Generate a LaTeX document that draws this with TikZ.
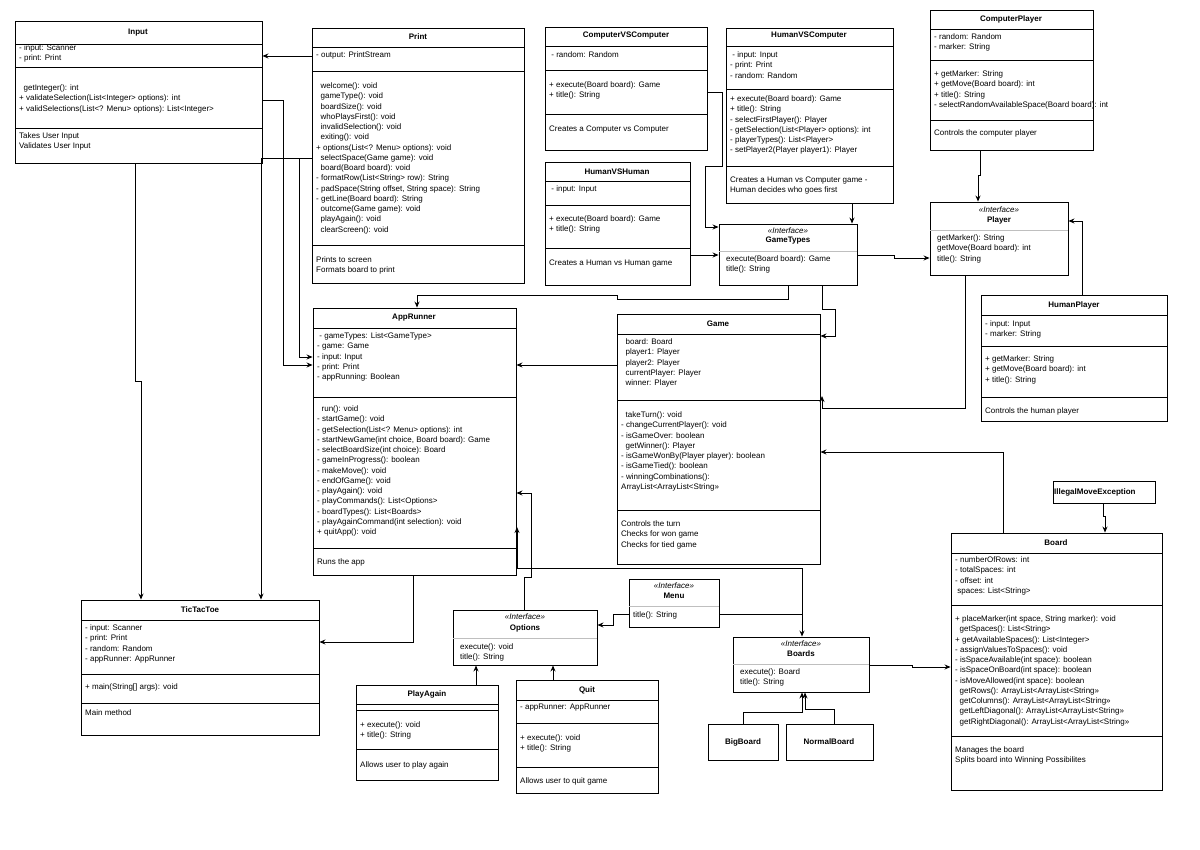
\documentclass[tikz,border=0pt]{standalone}
\usepackage{fontspec}
\setmainfont{Liberation Sans}
\usetikzlibrary{fit,arrows.meta}
\tikzset{
 box/.style={draw,line width=0.9pt,inner sep=0pt},
 ttl/.style={font=\fontsize{8}{10}\selectfont\bfseries,inner sep=0pt},
 ster/.style={font=\fontsize{8}{10}\selectfont\itshape,inner sep=0pt},
 txt/.style={font=\fontsize{8}{10.25}\selectfont,align=left,anchor=north west,inner sep=0pt},
 dv/.style={line width=0.9pt},
 gdv/.style={line width=0.9pt,gray!50},
 con/.style={line width=0.9pt,-{Stealth[length=6pt,width=5pt]}},
}
\newcommand\umlcls[5]{\node[box,fit={(#2,#3)(#4,#5)}] (#1) {};}
\newcommand\tx[3]{\node[txt] at (#1,#2-4.3) {#3};}
\begin{document}
\begin{tikzpicture}[x=1pt,y=-1pt]
\useasboundingbox (0,0) rectangle (1200,850);
% Input
\umlcls{Input}{15}{21}{262}{163}
\node[ttl] at (138,33) {Input};
\draw[dv] (15,44)--(262,44) (15,67)--(262,67) (15,128)--(262,128);
\tx{19}{49}{- input: Scanner\\- print: Print}
\tx{19}{89}{\ \ getInteger(): int\\+ validateSelection(List<Integer> options): int\\+ validSelections(List<? Menu> options): List<Integer>}
\tx{19}{137}{Takes User Input\\Validates User Input}
% Print
\umlcls{Print}{312}{28}{524}{283}
\node[ttl] at (418,37) {Print};
\draw[dv] (312,47)--(524,47) (312,71)--(524,71) (312,245)--(524,245);
\tx{316}{56}{- output: PrintStream}
\tx{316}{87}{\ \ welcome(): void\\\ \ gameType(): void\\\ \ boardSize(): void\\\ \ whoPlaysFirst(): void\\\ \ invalidSelection(): void\\\ \ exiting(): void\\+ options(List<? Menu> options): void\\\ \ selectSpace(Game game): void\\\ \ board(Board board): void\\- formatRow(List<String> row): String\\- padSpace(String offset, String space): String\\- getLine(Board board): String\\\ \ outcome(Game game): void\\\ \ playAgain(): void\\\ \ clearScreen(): void}
\tx{316}{261}{Prints to screen\\Formats board to print}
% ComputerVSComputer
\umlcls{CvC}{545}{27}{707}{150}
\node[ttl] at (626,36) {ComputerVSComputer};
\draw[dv] (545,46)--(707,46) (545,70)--(707,70) (545,114)--(707,114);
\tx{549}{56}{\ - random: Random}
\tx{549}{86}{+ execute(Board board): Game\\+ title(): String}
\tx{549}{130}{Creates a Computer vs Computer}
% HumanVSComputer
\umlcls{HvC}{726}{28}{893}{203}
\node[ttl] at (809,36) {HumanVSComputer};
\draw[dv] (726,46)--(893,46) (726,89)--(893,89) (726,166)--(893,166);
\tx{730}{56}{\ - input: Input\\- print: Print\\- random: Random}
\tx{730}{100}{+ execute(Board board): Game\\+ title(): String\\- selectFirstPlayer(): Player\\- getSelection(List<Player> options): int\\- playerTypes(): List<Player>\\- setPlayer2(Player player1): Player}
\tx{730}{181}{Creates a Human vs Computer game -\\Human decides who goes first}
% HumanVSHuman
\umlcls{HvH}{545}{162}{690}{285}
\node[ttl] at (617,172) {HumanVSHuman};
\draw[dv] (545,181)--(690,181) (545,205)--(690,205) (545,248)--(690,248);
\tx{549}{190}{\ - input: Input}
\tx{549}{220}{+ execute(Board board): Game\\+ title(): String}
\tx{549}{264}{Creates a Human vs Human game}
% GameTypes
\umlcls{GameTypes}{719}{224}{857}{285}
\node[ster] at (788,231) {<<Interface>>};
\node[ttl] at (788,241) {GameTypes};
\draw[gdv] (719,251)--(857,251);
\tx{726}{260}{execute(Board board): Game\\title(): String}
% ComputerPlayer
\umlcls{CompPlayer}{930}{10}{1093}{150}
\node[ttl] at (1011,19) {ComputerPlayer};
\draw[dv] (930,29)--(1093,29) (930,60)--(1093,60) (930,120)--(1093,120);
\tx{934}{38}{- random: Random\\- marker: String}
\tx{934}{75}{+ getMarker: String\\+ getMove(Board board): int\\+ title(): String\\- selectRandomAvailableSpace(Board board): int}
\tx{934}{134}{Controls the computer player}
% Player
\umlcls{Player}{930}{202}{1068}{275}
\node[ster] at (999,210) {<<Interface>>};
\node[ttl] at (999,220) {Player};
\draw[gdv] (930,230)--(1068,230);
\tx{937}{239}{getMarker(): String\\getMove(Board board): int\\title(): String}
% HumanPlayer
\umlcls{HumanPlayer}{981}{295}{1167}{421}
\node[ttl] at (1074,305) {HumanPlayer};
\draw[dv] (981,315)--(1167,315) (981,346)--(1167,346) (981,397)--(1167,397);
\tx{985}{325}{- input: Input\\- marker: String}
\tx{985}{360}{+ getMarker: String\\+ getMove(Board board): int\\+ title(): String}
\tx{985}{412}{Controls the human player}
% AppRunner
\umlcls{AppRunner}{313}{308}{516}{575}
\node[ttl] at (414,318) {AppRunner};
\draw[dv] (313,328)--(516,328) (313,397)--(516,397) (313,548)--(516,548);
\tx{317}{337}{\ - gameTypes: List<GameType>\\- game: Game\\- input: Input\\- print: Print\\- appRunning: Boolean}
\tx{317}{410}{\ \ run(): void\\- startGame(): void\\- getSelection(List<? Menu> options): int\\- startNewGame(int choice, Board board): Game\\- selectBoardSize(int choice): Board\\- gameInProgress(): boolean\\- makeMove(): void\\- endOfGame(): void\\- playAgain(): void\\- playCommands(): List<Options>\\- boardTypes(): List<Boards>\\- playAgainCommand(int selection): void\\+ quitApp(): void}
\tx{317}{563}{Runs the app}
% Game
\umlcls{Game}{617}{314}{820}{564}
\node[ttl] at (718,324) {Game};
\draw[dv] (617,334)--(820,334) (617,400)--(820,400) (617,510)--(820,510);
\tx{621}{343}{\ \ board: Board\\\ \ player1: Player\\\ \ player2: Player\\\ \ currentPlayer: Player\\\ \ winner: Player}
\tx{621}{416}{\ \ takeTurn(): void\\- changeCurrentPlayer(): void\\- isGameOver: boolean\\\ \ getWinner(): Player\\- isGameWonBy(Player player): boolean\\- isGameTied(): boolean\\- winningCombinations():\\ArrayList<ArrayList<String>>}
\tx{621}{525}{Controls the turn\\Checks for won game\\Checks for tied game}
% TicTacToe
\umlcls{TicTacToe}{81}{600}{319}{735}
\node[ttl] at (200,610) {TicTacToe};
\draw[dv] (81,620)--(319,620) (81,674)--(319,674) (81,703)--(319,703);
\tx{85}{629}{- input: Scanner\\- print: Print\\- random: Random\\- appRunner: AppRunner}
\tx{85}{688}{+ main(String[] args): void}
\tx{85}{714}{Main method}
% Options
\umlcls{Options}{453}{610}{597}{665}
\node[ster] at (525,617) {<<Interface>>};
\node[ttl] at (525,628) {Options};
\draw[gdv] (453,638)--(597,638);
\tx{460}{648}{execute(): void\\title(): String}
% Menu
\umlcls{Menu}{629}{579}{719}{627}
\node[ster] at (674,586) {<<Interface>>};
\node[ttl] at (674,596) {Menu};
\draw[gdv] (629,606)--(719,606);
\tx{633}{616}{title(): String}
% PlayAgain
\umlcls{PlayAgain}{356}{685}{498}{780}
\node[ttl] at (427,694) {PlayAgain};
\draw[dv] (356,704)--(498,704) (356,710)--(498,710) (356,749)--(498,749);
\tx{360}{726}{+ execute(): void\\+ title(): String}
\tx{360}{766}{Allows user to play again}
% Quit
\umlcls{Quit}{516}{680}{658}{793}
\node[ttl] at (587,690) {Quit};
\draw[dv] (516,700)--(658,700) (516,723)--(658,723) (516,767)--(658,767);
\tx{520}{708}{- appRunner: AppRunner}
\tx{520}{739}{+ execute(): void\\+ title(): String}
\tx{520}{782}{Allows user to quit game}
% Boards
\umlcls{Boards}{733}{637}{869}{692}
\node[ster] at (801,644) {<<Interface>>};
\node[ttl] at (801,654) {Boards};
\draw[gdv] (733,664)--(869,664);
\tx{740}{673}{execute(): Board\\title(): String}
% BigBoard, NormalBoard
\umlcls{BigBoard}{708}{724}{778}{760}
\node[ttl] at (743,742) {BigBoard};
\umlcls{NormalBoard}{786}{724}{873}{760}
\node[ttl] at (829,742) {NormalBoard};
% IllegalMoveException
\umlcls{Illegal}{1053}{481}{1155}{503}
\node[ttl,anchor=west] at (1054,492) {IllegalMoveException};
% Board
\umlcls{Board}{951}{533}{1162}{790}
\node[ttl] at (1056,543) {Board};
\draw[dv] (951,553)--(1162,553) (951,605)--(1162,605) (951,736)--(1162,736);
\tx{955}{561}{- numberOfRows: int\\- totalSpaces: int\\- offset: int\\\ spaces: List<String>}
\tx{955}{620}{+ placeMarker(int space, String marker): void\\\ \ getSpaces(): List<String>\\+ getAvailableSpaces(): List<Integer>\\- assignValuesToSpaces(): void\\- isSpaceAvailable(int space): boolean\\- isSpaceOnBoard(int space): boolean\\- isMoveAllowed(int space): boolean\\\ \ getRows(): ArrayList<ArrayList<String>>\\\ \ getColumns(): ArrayList<ArrayList<String>>\\\ \ getLeftDiagonal(): ArrayList<ArrayList<String>>\\\ \ getRightDiagonal(): ArrayList<ArrayList<String>>}
\tx{955}{751}{Manages the board\\Splits board into Winning Possibilites}
% connectors
\draw[con] (Print.west |- 0,56) -- (Input.east |- 0,56);
\draw[con] (Input.east |- 0,100) -- (283,100) -- (283,365) -- (AppRunner.west |- 0,365);
\draw[con] (Print.west |- 0,158) -- (299,158) -- (299,357) -- (AppRunner.west |- 0,357);
\draw[con] (Print.west |- 0,158) -- (261,158) -- (TicTacToe.north -| 261,0);
\draw[con] (Input.south -| 135,0) -- (135,381) -- (141,381) -- (TicTacToe.north -| 141,0);
\draw[con] (AppRunner.south -| 413,0) -- (413,642) -- (TicTacToe.east |- 0,642);
\draw[con] (CvC.east |- 0,92) -- (722,92) -- (722,166) -- (705,166) -- (705,227) -- (GameTypes.west |- 0,227);
\draw[con] (HvH.east |- 0,255) -- (GameTypes.west |- 0,255);
\draw[con] (HvC.south -| 852,0) -- (GameTypes.north -| 852,0);
\draw[con] (GameTypes.east |- 0,255) -- (894,255) -- (894,258) -- (Player.west |- 0,258);
\draw[con] (CompPlayer.south -| 980,0) -- (980,175) -- (978,175) -- (Player.north -| 978,0);
\draw[con] (HumanPlayer.north -| 1082,0) -- (1082,221) -- (Player.east |- 0,221);
\draw[con] (Player.south -| 965,0) -- (965,408) -- (822,408) -- (822,396);
\draw[con] (GameTypes.south -| 788,0) -- (788,299) -- (617,299) -- (617,295) -- (417,295) -- (AppRunner.north -| 417,0);
\draw[con] (GameTypes.south -| 822,0) -- (822,309) -- (835,309) -- (835,336) -- (Game.east |- 0,336);
\draw[con] (Game.west |- 0,365) -- (AppRunner.east |- 0,365);
\draw[con] (Board.north -| 1003,0) -- (1003,452) -- (Game.east |- 0,452);
\draw[con] (Illegal.south -| 1103,0) -- (1103,516) -- (1105,516) -- (Board.north -| 1105,0);
\draw[con] (Options.north -| 524,0) -- (524,577) -- (531,577) -- (531,493) -- (AppRunner.east |- 0,493);
\draw[con] (517,568) -- (517,527);
\draw[con] (517,568) -- (802,568) -- (Boards.north -| 802,0);
\draw[line width=0.9pt] (Menu.east |- 0,614) -- (802,614);
\draw[con] (Menu.west |- 0,614) -- (613,614) -- (613,625) -- (Options.east |- 0,625);
\draw[con] (PlayAgain.north -| 476,0) -- (Options.south -| 476,0);
\draw[con] (Quit.north -| 553,0) -- (Options.south -| 553,0);
\draw[con] (BigBoard.north -| 743,0) -- (743,712) -- (802,712) -- (Boards.south -| 802,0);
\draw[con] (NormalBoard.north -| 834,0) -- (834,709) -- (805,709) -- (Boards.south -| 805,0);
\draw[con] (Boards.east |- 0,665) -- (912,665) -- (912,667) -- (Board.west |- 0,667);
\end{tikzpicture}
\end{document}
